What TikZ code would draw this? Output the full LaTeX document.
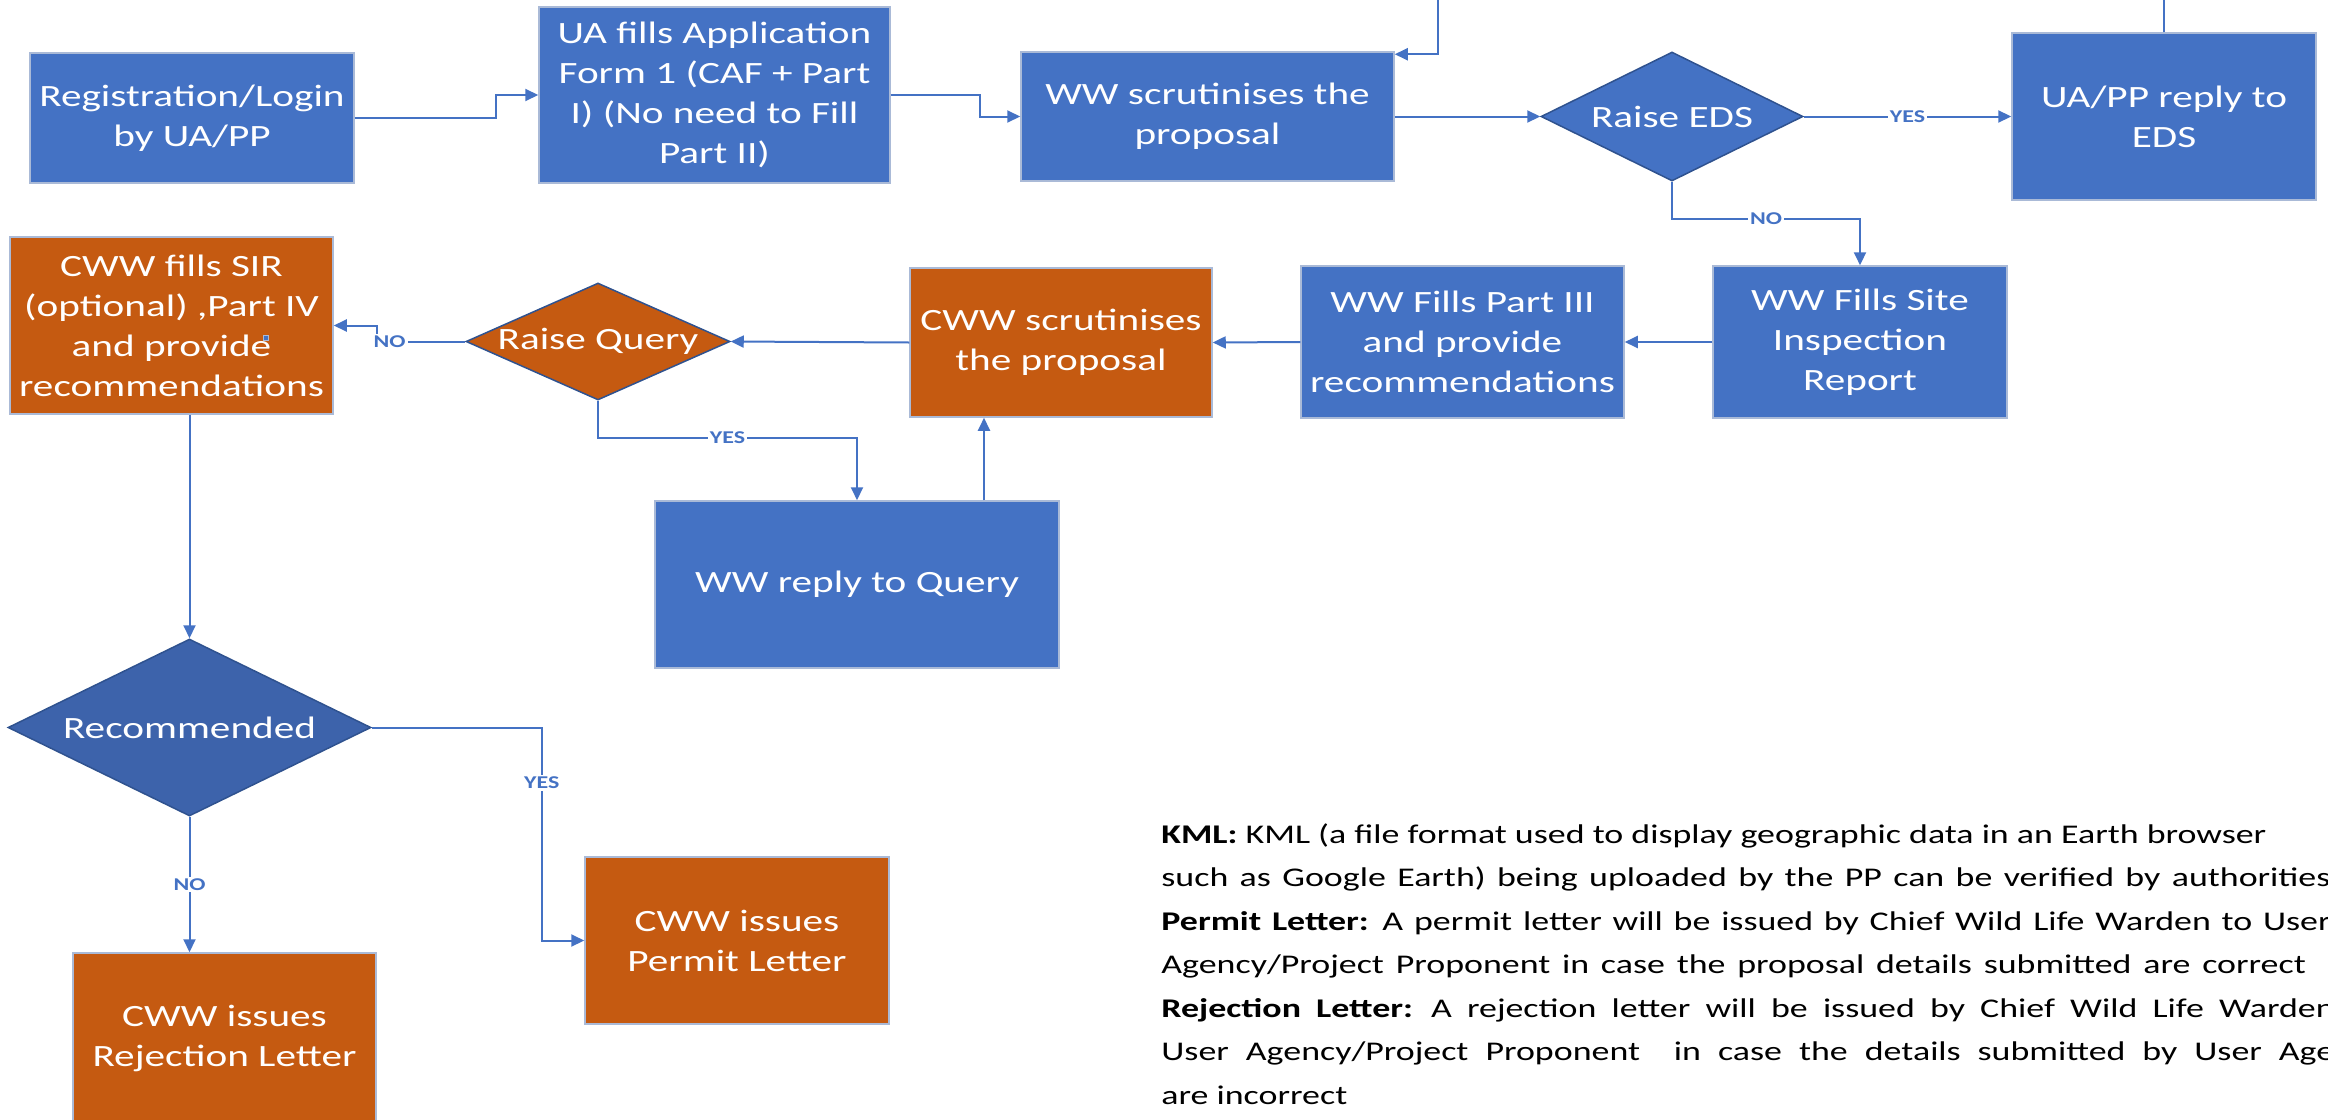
\documentclass[tikz,border=0pt]{standalone}
\usepackage{fontspec}
\setmainfont{Carlito}[FakeStretch=1.33]
\usetikzlibrary{arrows.meta,calc,shapes.geometric}
\definecolor{bblue}{RGB}{68,114,196}
\definecolor{borange}{RGB}{197,90,17}
\definecolor{rblue}{RGB}{61,99,171}
\definecolor{bline}{RGB}{68,114,196}
\definecolor{bedge}{RGB}{170,186,215}
\definecolor{dedge}{RGB}{47,82,143}
\tikzset{
 base/.style={text=white, align=center, inner sep=0pt, font=\fontsize{15.5}{20}\selectfont, line width=0.75pt},
 bluebox/.style={base, rectangle, fill=bblue, draw=bedge},
 orgbox/.style={base, rectangle, fill=borange, draw=bedge},
 dia/.style={base, diamond, draw=dedge},
 arr/.style={draw=bline, line width=1pt, -{Triangle[length=6.5pt,width=6pt]}},
 lbl/.style={text=bline, fill=white, inner sep=1pt, font=\fontsize{9}{10}\selectfont\bfseries},
 note/.style={anchor=base west, inner sep=0pt, font=\fontsize{13.5}{22}\selectfont},
}
\begin{document}
\begin{tikzpicture}[x=0.5pt,y=-0.5pt]
\useasboundingbox (0,0) rectangle (2328,1119);
\clip (0,0) rectangle (2328,1119);
% row 1
\node[bluebox, minimum width=162pt, minimum height=65pt] (Reg) at (192,118) {Registration/Login\\by UA/PP};
\node[bluebox, minimum width=175.5pt, minimum height=88pt] (UA) at (714.5,95) {UA fills Application\\Form 1 (CAF + Part\\I) (No need to Fill\\Part II)};
\node[bluebox, minimum width=186.5pt, minimum height=64.5pt] (WWs) at (1207.5,116.5) {WW scrutinises the\\proposal};
\node[dia, fill=bblue, minimum width=131pt, minimum height=64.5pt] (EDS) at (1672,116.5) {\makebox[0pt]{Raise EDS}};
\node[bluebox, minimum width=152pt, minimum height=83.5pt] (Reply) at (2164,116.5) {UA/PP reply to\\EDS};
% row 2
\node[orgbox, minimum width=161.5pt, minimum height=88.5pt] (SIR) at (171.5,325.5) {CWW fills SIR\\(optional) ,Part IV\\and provide\\recommendations};
\node[draw=bedge, fill=bblue, line width=0.3pt, minimum size=2.5pt, inner sep=0pt] (hdl) at (266,338) {};
\node[dia, fill=borange, minimum width=132pt, minimum height=58.5pt] (RQ) at (598,341.5) {\makebox[0pt]{Raise Query}};
\node[orgbox, minimum width=151pt, minimum height=74.5pt] (CWWs) at (1061,342.5) {CWW scrutinises\\the proposal};
\node[bluebox, minimum width=161.5pt, minimum height=76pt] (P3) at (1462.5,342) {WW Fills Part III\\and provide\\recommendations};
\node[bluebox, minimum width=147pt, minimum height=76pt] (Site) at (1860,342) {WW Fills Site\\Inspection\\Report};
\node[bluebox, minimum width=202pt, minimum height=83.5pt] (WWr) at (857,584.5) {WW reply to Query};
% row 3
\node[dia, fill=rblue, minimum width=181.5pt, minimum height=88.5pt] (Rec) at (189.5,727.5) {\makebox[0pt]{Recommended}};
\node[orgbox, minimum width=152pt, minimum height=83.5pt] (Permit) at (737,940.5) {CWW issues\\Permit Letter};
\node[orgbox, minimum width=151.5pt, minimum height=85pt] (Rej) at (224.5,1038) {CWW issues\\Rejection Letter};
% connectors
\draw[arr] (Reg.east) -- ++(141,0) |- (UA.west);
\draw[arr] (UA.east) -- ++(89,0) |- (WWs.west);
\draw[arr] (WWs.east) -- (EDS.west);
\draw[arr] (EDS.east) -- node[lbl]{YES} (Reply.west);
\coordinate (loopend) at ($(WWs.north east)+(0,3)$);
\draw[arr] (Reply.north) |- (1438,-30) |- (loopend);
\draw[arr] (EDS.south) -- ++(0,37) -| node[lbl,pos=0.25]{NO} (Site.north);
\draw[arr] (Site.west) -- (P3.east);
\draw[arr] (P3.west) -- (CWWs.east);
\draw[arr] (CWWs.west) -- (RQ.east);
\draw[arr] (RQ.west) -- node[lbl,pos=0.86]{NO} ++(-88,0) |- (SIR.east);
\draw[arr] (RQ.south) -- ++(0,37) -| node[lbl,pos=0.25]{YES} (WWr.north);
\coordinate (wup) at ($(WWr.north)+(127,0)$);
\draw[arr] (wup) -- (wup |- CWWs.south);
\draw[arr] (SIR.south -| Rec.north) -- (Rec.north);
\draw[arr] (Rec.east) -- ++(170,0) |- node[lbl,pos=0.13]{YES} (Permit.west);
\draw[arr] (Rec.south) -- node[lbl]{NO} (Rec.south |- Rej.north);
% notes
\node[note] (n1) at (1161,843) {\textbf{KML:} KML (a file format used to display geographic data in an Earth browser};
\node[note] (n2) at (1161,886.5) {\spaceskip=5.7pt\relax such as Google Earth) being uploaded by the PP can be verified by authorities};
\node[note] (n3) at (1161,930) {\spaceskip=5.4pt\relax\textbf{Permit Letter:} A permit letter will be issued by Chief Wild Life Warden to User};
\node[note] (n4) at (1161,973.5) {\spaceskip=5.9pt\relax Agency/Project Proponent in case the proposal details submitted are correct};
\node[note] (n5) at (1161,1017) {\spaceskip=7.6pt\relax\textbf{Rejection Letter:} A rejection letter will be issued by Chief Wild Life Warden};
\node[note] (n6) at (1161,1060.5) {\spaceskip=8.5pt\relax User Agency/Project Proponent\ \ in case the details submitted by User Agency};
\node[note] (n7) at (1161,1104) {are incorrect};
\end{tikzpicture}
\end{document}
